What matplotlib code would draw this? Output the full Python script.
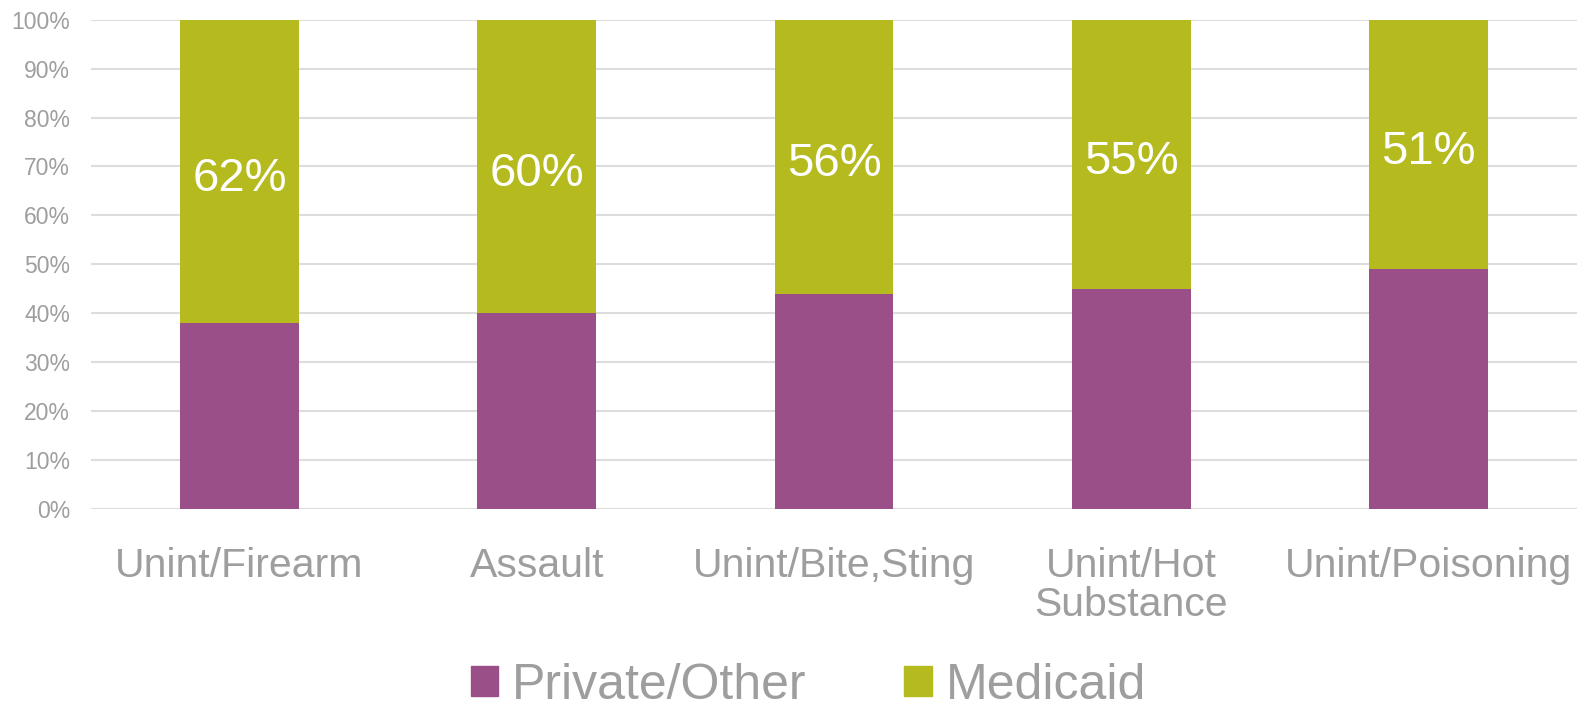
import matplotlib
matplotlib.use('Agg')
import matplotlib.pyplot as plt
from matplotlib.patches import Patch

categories = ['Unint/Firearm', 'Assault', 'Unint/Bite,Sting', 'Unint/Hot\nSubstance', 'Unint/Poisoning']
medicaid = [62, 60, 56, 55, 51]
private_other = [100 - m for m in medicaid]

purple = '#9B4F88'
olive = '#B5BA1E'
gray = '#9E9E9E'

plt.rcParams['font.family'] = ['Liberation Sans', 'DejaVu Sans']

fig = plt.figure(figsize=(15.85, 7.13), dpi=100)
ax = fig.add_axes([0.0574, 0.286, 0.9375, 0.6865])

x = list(range(len(categories)))
ax.bar(x, private_other, width=0.4, color=purple, zorder=3)
ax.bar(x, medicaid, width=0.4, bottom=private_other, color=olive, zorder=3)

# value labels sit in the middle of the Medicaid segment
for xi, p, m in zip(x, private_other, medicaid):
    ax.text(xi, p + m / 2 - 1.5, f'{m}%', ha='center', va='center', color='white',
            fontsize=34, zorder=4)

ax.set_xlim(-0.5, 4.5)
ax.set_ylim(0, 100)
ax.set_yticks(range(0, 101, 10))
ax.set_yticklabels([f'{v}%' for v in range(0, 101, 10)])
ax.yaxis.grid(True, color='#DDDDDD', linewidth=1.5, zorder=0)
ax.set_xticks(x)
ax.set_xticklabels(categories, fontsize=29.5, color=gray, linespacing=1.05)
ax.tick_params(axis='x', length=0, pad=27)
ax.tick_params(axis='y', length=0, pad=15, labelsize=16.5, labelcolor=gray)
for s in ax.spines.values():
    s.set_visible(False)

handles = [Patch(color=purple, label='Private/Other'), Patch(color=olive, label='Medicaid')]
leg = fig.legend(handles=handles, loc='center', bbox_to_anchor=(0.51, 0.038), ncol=2,
                 frameon=False, fontsize=36, handlelength=0.55, handleheight=0.55,
                 handletextpad=0.28, columnspacing=1.95, borderpad=0.2)
for t in leg.get_texts():
    t.set_color(gray)

fig.savefig('out.png', dpi=100)
